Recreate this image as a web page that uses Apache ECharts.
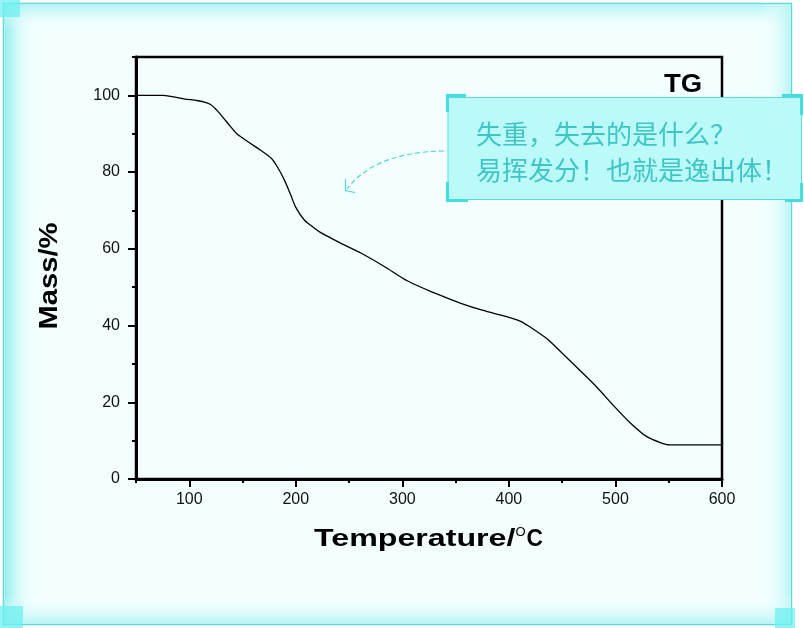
<!DOCTYPE html>
<html><head><meta charset="utf-8">
<script src="https://cdn.jsdelivr.net/npm/echarts@6/dist/echarts.min.js"></script>
<style>html,body{margin:0;padding:0;background:#fff}#c{width:804px;height:628px}</style>
</head><body><div id="c"></div>
<script>
// Data
const temperature = [50, 75, 85, 95, 108, 115, 120, 125, 130, 139, 145, 155, 167, 177, 183, 189, 195, 200, 208, 217, 223, 233, 242, 261, 283, 305, 330, 355, 375, 398, 411, 420, 436, 451, 467, 483, 498, 514, 529, 542, 551, 600];
const mass =        [100, 100, 99.6, 99.1, 98.6, 98.2, 97.6, 96.4, 94.8, 91.8, 89.9, 87.9, 85.7, 83.6, 81.2, 78.1, 74.2, 70.8, 67.5, 65.5, 64.3, 62.8, 61.5, 58.9, 55.4, 51.6, 48.5, 45.8, 44.0, 42.3, 41.1, 39.6, 36.5, 32.5, 28.2, 23.8, 19.2, 14.6, 11.1, 9.5, 8.9, 8.9];
const xTickValues = [50, 100, 150, 200, 250, 300, 350, 400, 450, 500, 550, 600];
const yTickValues = [0, 10, 20, 30, 40, 50, 60, 70, 80, 90, 100, 110];
const xTitle = 'Temperature/';
const xTitleSup = 'O';
const xTitleEnd = 'C';
const yTitle = 'Mass/%';
const curveLabel = 'TG';
const noteLines = ['失重，失去的是什么？', '易挥发分！也就是逸出体！'];

const chart = echarts.init(document.getElementById('c'), null, {renderer: 'canvas'});
const FONT = '"Liberation Sans", Arial, sans-serif';
const isMajorX = (i, v) => Number(v) % 100 === 0;
const isMajorY = (i, v) => Number(v) % 20 === 0 && Number(v) <= 100;
const cyan = '#45dede';

const option = {
  backgroundColor: '#ffffff',
  animation: false,
  grid: {left: 136, right: 82, top: 57, bottom: 149, show: true, borderColor: '#000', borderWidth: 2.5, backgroundColor: 'transparent'},
  xAxis: [
    {type: 'value', min: 50, max: 600, interval: 50, position: 'bottom',
     axisLine: {show: true, lineStyle: {color: '#000', width: 3}},
     axisTick: {show: true, length: 4, lineStyle: {color: '#000', width: 2}},
     axisLabel: {show: false}, splitLine: {show: false}},
    {type: 'category', data: xTickValues.map(String), boundaryGap: false, position: 'bottom',
     axisLine: {show: false},
     axisTick: {show: true, length: 8, interval: isMajorX, lineStyle: {color: '#000', width: 2}},
     axisLabel: {show: true, interval: isMajorX, fontSize: 16, color: '#111', margin: 13, fontFamily: FONT},
     splitLine: {show: false}}
  ],
  yAxis: [
    {type: 'value', min: 0, max: 110, interval: 10, position: 'left',
     axisLine: {show: true, lineStyle: {color: '#000', width: 3}},
     axisTick: {show: true, length: 4, lineStyle: {color: '#000', width: 2}},
     axisLabel: {show: false}, splitLine: {show: false}},
    {type: 'category', data: yTickValues.map(String), boundaryGap: false, position: 'left',
     axisLine: {show: false},
     axisTick: {show: true, length: 8, interval: isMajorY, lineStyle: {color: '#000', width: 2}},
     axisLabel: {show: true, interval: isMajorY, fontSize: 16, color: '#111', margin: 16, fontFamily: FONT},
     splitLine: {show: false}}
  ],
  series: [{
    type: 'line', xAxisIndex: 0, yAxisIndex: 0, showSymbol: false, smooth: 0.3,
    lineStyle: {color: '#000', width: 1.3},
    data: temperature.map((t, i) => [t, mass[i]]), z: 3
  }],
  graphic: {elements: [
    // panel background
    {type: 'rect', z: -100, shape: {x: 3.5, y: 3.5, width: 788, height: 621}, style: {fill: '#f3ffff', stroke: '#5cd8d8', lineWidth: 1.5}},
    {type: 'rect', z: -99, shape: {x: 4.5, y: 4.5, width: 32, height: 619}, style: {fill: new echarts.graphic.LinearGradient(0, 0, 1, 0, [{offset: 0, color: 'rgba(140,236,236,0.95)'}, {offset: 1, color: 'rgba(243,255,255,0)'}])}},
    {type: 'rect', z: -99, shape: {x: 4.5, y: 4.5, width: 786, height: 26}, style: {fill: new echarts.graphic.LinearGradient(0, 0, 0, 1, [{offset: 0, color: 'rgba(170,242,242,0.9)'}, {offset: 1, color: 'rgba(243,255,255,0)'}])}},
    {type: 'rect', z: -99, shape: {x: 760, y: 4.5, width: 30.5, height: 619}, style: {fill: new echarts.graphic.LinearGradient(0, 0, 1, 0, [{offset: 0, color: 'rgba(243,255,255,0)'}, {offset: 1, color: 'rgba(185,244,244,0.95)'}])}},
    {type: 'rect', z: -99, shape: {x: 4.5, y: 596, width: 786, height: 28}, style: {fill: new echarts.graphic.LinearGradient(0, 0, 0, 1, [{offset: 0, color: 'rgba(243,255,255,0)'}, {offset: 1, color: 'rgba(180,243,243,0.95)'}])}},
    {type: 'rect', z: -98, shape: {x: 0, y: 0, width: 20, height: 17}, style: {fill: 'rgba(110,240,240,0.75)'}},
    {type: 'rect', z: -98, shape: {x: 0, y: 606, width: 23, height: 22}, style: {fill: 'rgba(110,240,240,0.75)'}},
    {type: 'rect', z: -98, shape: {x: 775, y: 608, width: 20, height: 20}, style: {fill: 'rgba(110,240,240,0.75)'}},
    // axis titles
    {type: 'text', z: 50, x: 314, y: 539, scaleX: 1.34, style: {text: xTitle, font: 'bold 24px ' + FONT, fill: '#000', align: 'left', verticalAlign: 'middle'}},
    {type: 'text', z: 50, x: 515.5, y: 532, style: {text: xTitleSup, font: '13px ' + FONT, fill: '#000', align: 'left', verticalAlign: 'middle'}},
    {type: 'text', z: 50, x: 526.5, y: 539, scaleX: 0.95, style: {text: xTitleEnd, font: 'bold 24px ' + FONT, fill: '#000', align: 'left', verticalAlign: 'middle'}},
    {type: 'text', z: 50, x: 50, y: 276, rotation: Math.PI / 2, scaleX: 1.12, style: {text: yTitle, font: 'bold 26px ' + FONT, fill: '#000', align: 'center', verticalAlign: 'middle'}},
    {type: 'text', z: 50, x: 683, y: 85, scaleX: 1.1, style: {text: curveLabel, font: 'bold 25px ' + FONT, fill: '#000', align: 'center', verticalAlign: 'middle'}},
    // annotation arrow
    {type: 'bezierCurve', z: 60, shape: {x1: 444, y1: 151, cpx1: 375, cpy1: 152, x2: 347, y2: 189}, style: {stroke: '#4fd6d6', lineWidth: 1.2, lineDash: [5, 3], fill: null}},
    {type: 'polyline', z: 60, shape: {points: [[345.5, 179], [345.5, 190.5], [355, 192.5]]}, style: {stroke: '#4fd6d6', lineWidth: 1.2, fill: null}},
    // annotation box
    {type: 'rect', z: 100, shape: {x: 448, y: 97.5, width: 353.5, height: 102}, style: {fill: '#bcf9f9', stroke: '#5adcdc', lineWidth: 1}},
    {type: 'polyline', z: 101, shape: {points: [[447.5, 112], [447.5, 95.5], [466, 95.5]]}, style: {stroke: cyan, lineWidth: 3, fill: null}},
    {type: 'polyline', z: 101, shape: {points: [[447.5, 182], [447.5, 200.5], [468, 200.5]]}, style: {stroke: cyan, lineWidth: 3, fill: null}},
    {type: 'polyline', z: 101, shape: {points: [[782, 95.5], [801.5, 95.5], [801.5, 115]]}, style: {stroke: cyan, lineWidth: 3, fill: null}},
    {type: 'polyline', z: 101, shape: {points: [[801.5, 183], [801.5, 200.5], [785, 200.5]]}, style: {stroke: cyan, lineWidth: 3, fill: null}},
    {type: 'text', z: 102, x: 476, y: 134, style: {text: noteLines[0], font: '26px "Noto Sans CJK SC"', fill: '#3ec6c6', align: 'left', verticalAlign: 'middle'}},
    {type: 'text', z: 102, x: 476, y: 170, style: {text: noteLines[1], font: '26px "Noto Sans CJK SC"', fill: '#3ec6c6', align: 'left', verticalAlign: 'middle'}}
  ]}
};
chart.setOption(option);
</script>
</body></html>
